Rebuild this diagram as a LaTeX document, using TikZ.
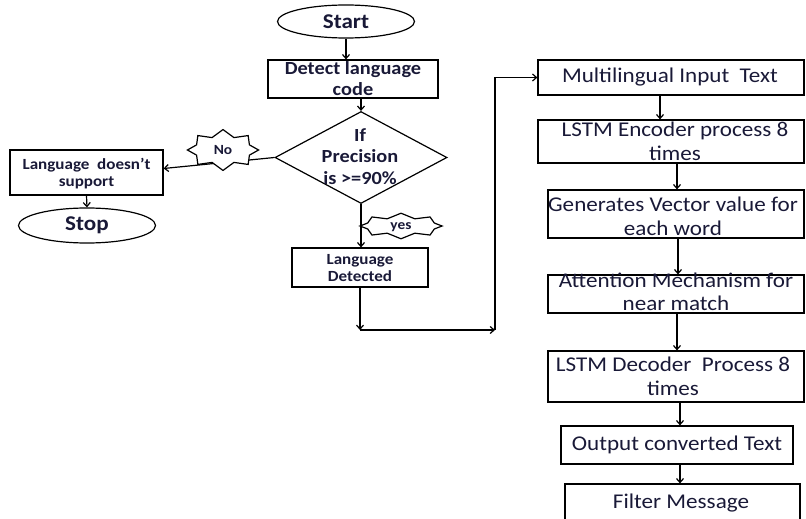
\documentclass[tikz,border=0pt]{standalone}
\usepackage{fontspec}
\setmainfont{Carlito}[FakeStretch=1.1]
\usetikzlibrary{shapes.geometric,shapes.symbols,arrows.meta}
\definecolor{ink}{RGB}{25,25,55}

\begin{document}
\begin{tikzpicture}[x=1pt,y=-1pt,line width=1.2pt,
  box/.style={draw,inner sep=0pt},
  lbl/.style={text=ink,align=center,inner sep=0pt},
  term/.style={ellipse,draw,inner sep=0pt,text=ink,font=\bfseries\fontsize{21}{24}\selectfont},
  arr/.style={-{Straight Barb[length=4pt,width=7pt]}},
  burst/.style={starburst,draw,fill=white,random starburst=0,
    starburst points=8,text=ink},
  bigl/.style={lbl,font=\bfseries\fontsize{18.5}{20.5}\selectfont},
  smalll/.style={lbl,font=\bfseries\fontsize{15.5}{17}\selectfont},
  rtxt/.style={lbl,font=\fontsize{21}{23.5}\selectfont},
]
\useasboundingbox (0,0) rectangle (806,519);

% ---------- left branch: detection ----------
\node[term,minimum width=137pt,minimum height=33pt] (start) at (346,21.5) {Start};

\node[box,minimum width=170pt,minimum height=38pt] (det) at (353,79) {};
\node[bigl] at (353,78.5) {Detect language\\code};

\node[diamond,draw,inner sep=0pt,minimum width=172pt,minimum height=92pt] (dia) at (361,157.5) {};
\node[bigl,font=\bfseries\fontsize{18.5}{21.5}\selectfont] at (360,156.5) {If\\Precision\\is >=90\%};

\node[box,minimum width=153pt,minimum height=45pt] (nos) at (86.5,172.5) {};
\node[smalll] at (86.5,173.5) {Language~ doesn’t\\support};

\node[term,minimum width=137pt,minimum height=35pt] (stop) at (87,225.5) {Stop};

\node[box,minimum width=136pt,minimum height=39pt] (ld) at (360,267.5) {};
\node[smalll] at (360,268.5) {Language\\Detected};

\coordinate (c1) at (360,330);
\coordinate (c2) at (495,330);

% ---------- right branch: translation pipeline ----------
\node[box,minimum width=266pt,minimum height=35pt] (mit) at (671,77.5) {};
\node[rtxt] at (670,77.5) {Multilingual Input~ Text};

\node[box,minimum width=266pt,minimum height=43pt] (enc) at (671,141.5) {};
\node[rtxt] at (675,141.5) {LSTM Encoder process 8\\times};

\node[box,minimum width=256pt,minimum height=48pt] (gen) at (676,214) {};
\node[rtxt] at (673,216.5) {Generates Vector value for\\each word};

\node[box,minimum width=256pt,minimum height=38pt] (att) at (676,294) {};
\node[rtxt] at (676,292) {Attention Mechanism for\\near match};

\node[box,minimum width=256pt,minimum height=51pt] (dec) at (676,376.5) {};
\node[rtxt] at (673,376.5) {LSTM Decoder~ Process 8\\times};

\node[box,minimum width=232pt,minimum height=38pt] (out) at (677,445) {};
\node[rtxt] at (677,445) {Output converted Text};

\node[box,minimum width=235pt,minimum height=46pt] (fil) at (682.5,507) {};
\node[rtxt] at (681,503) {Filter Message};

% ---------- connectors ----------
\draw[arr] (start.south) -- (start.south |- det.north);
\draw[arr] (det.south -| dia.north) -- (dia.north);
\draw[arr] (dia.west) -- ([yshift=4pt]nos.east);
\draw[arr] (nos.south) -- (stop.north);
\draw[arr] (dia.south) -- (dia.south |- ld.north);
\draw[arr] (ld.south) -- (c1);
\draw[arr] (c1) -- (c2);
\draw[arr] (c2) -- (c2 |- mit.west) -- (mit.west);

\draw[arr] ([xshift=-11pt]mit.south) -- ([xshift=-11pt]mit.south |- enc.north);
\draw[arr] ([xshift=6pt]enc.south) -- ([xshift=6pt]enc.south |- gen.north);
\draw[arr] ([xshift=2pt]gen.south) -- ([xshift=2pt]gen.south |- att.north);
\draw[arr] ([xshift=1pt]att.south) -- ([xshift=1pt]att.south |- dec.north);
\draw[arr] ([xshift=4pt]dec.south) -- ([xshift=4pt]dec.south |- out.north);
\draw[arr] ([xshift=3pt]out.south) -- ([xshift=3pt]out.south |- fil.north);

% ---------- branch labels ----------
\node[burst,starburst point height=7pt,inner xsep=11pt,inner ysep=5pt,
  text height=9pt,text depth=0pt,
  font=\bfseries\fontsize{14}{16}\selectfont] (no) at (223,150) {No};
\node[burst,starburst point height=5pt,inner xsep=15pt,inner ysep=1.5pt,
  text height=7pt,text depth=1pt,
  font=\bfseries\fontsize{14}{16}\selectfont] (yes) at (401,226) {yes};
\end{tikzpicture}
\end{document}
